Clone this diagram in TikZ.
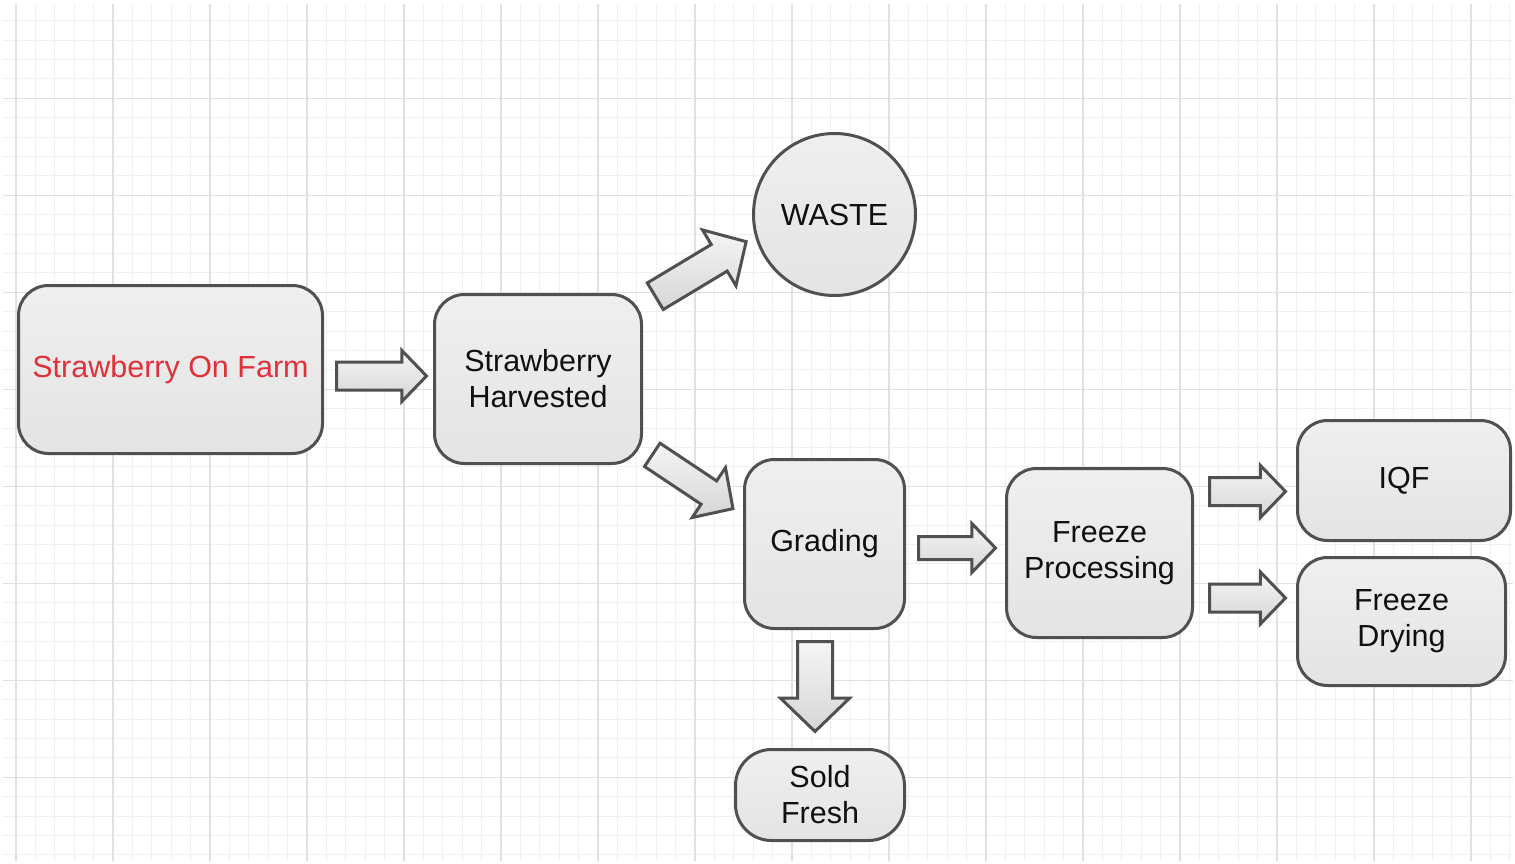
\documentclass[tikz,border=0pt]{standalone}
\usepackage{fontspec}
\setmainfont{Liberation Sans}
\usetikzlibrary{shapes.arrows,shapes.geometric,calc}
\definecolor{edge}{HTML}{505050}
\definecolor{boxtop}{HTML}{EFEFEF}
\definecolor{boxbot}{HTML}{E4E4E4}
\definecolor{arrtop}{HTML}{F5F5F5}
\definecolor{arrbot}{HTML}{D6D6D6}
\definecolor{txt}{HTML}{101010}
\definecolor{farmred}{HTML}{E0303A}
\definecolor{gridminor}{HTML}{F0F0F0}
\definecolor{gridmajor}{HTML}{E0E0E0}
\begin{document}
\begin{tikzpicture}[x=1pt,y=-1pt,
  box/.style={draw=edge, line width=3pt, rounded corners=30pt, top color=boxtop, bottom color=boxbot,
    inner sep=0pt, align=center, font=\fontsize{30.5}{36}\selectfont, text=txt},
  blockarr/.style={single arrow, draw=edge, line width=3pt, top color=arrtop, bottom color=arrbot,
    anchor=tail, single arrow tip angle=92},
  gminor/.style={draw=gridminor, line width=0.9pt},
  gmajor/.style={draw=gridmajor, line width=1.1pt}]
\useasboundingbox[fill=white] (0,0) rectangle (1515,864);
% grid
\foreach \k in {0,...,77} \draw[gminor] ({16+19.4*\k},4) -- ({16+19.4*\k},861);
\foreach \k in {1,...,44} \draw[gminor] (3,{1.3+19.4*\k}) -- (1513,{1.3+19.4*\k});
\foreach \k in {0,5,...,75} \draw[gmajor] ({16+19.4*\k},4) -- ({16+19.4*\k},861);
\foreach \k in {5,10,...,40} \draw[gmajor] (3,{1.3+19.4*\k}) -- (1513,{1.3+19.4*\k});
% nodes
\node[box, minimum width=304pt, minimum height=168pt, text=farmred] (farm) at (170.5,369.5) {Strawberry On Farm};
\node[box, minimum width=207pt, minimum height=169pt] (harv) at (538,379) {Strawberry\\Harvested};
\node[circle, draw=edge, line width=3pt, top color=boxtop, bottom color=boxbot, inner sep=0pt,
  minimum size=162pt, font=\fontsize{30.5}{36}\selectfont, text=txt] (waste) at (834.5,214.5) {WASTE};
\node[box, minimum width=160pt, minimum height=169pt] (grade) at (824.5,544) {Grading};
\node[box, minimum width=186pt, minimum height=169pt] (freeze) at (1099.5,553) {Freeze\\Processing};
\node[box, minimum width=213pt, minimum height=120pt] (iqf) at (1404,480.5) {IQF};
\node[box, minimum width=208pt, minimum height=128pt] (dry) at (1401.5,621.5) {Freeze\\Drying};
\node[box, minimum width=169pt, minimum height=91pt, rounded corners=36pt] (sold) at (820,795) {Sold\\Fresh};
% block arrows
\node[blockarr, rotate=0, minimum height=90pt, inner sep=12.5pt, single arrow head extend=11.5pt] (a1) at (335,376) {};
\node[blockarr, rotate=31, minimum height=106pt, inner sep=14pt, single arrow head extend=17pt] (a2) at (654,297) {};
\node[blockarr, rotate=-33.7, minimum height=97pt, inner sep=12.5pt, single arrow head extend=16pt] (a3) at (651,454) {};
\node[blockarr, rotate=0, minimum height=77pt, inner sep=10pt, single arrow head extend=13pt] (a4) at (917,548) {};
\node[blockarr, rotate=-90, minimum height=90pt, inner sep=16pt, single arrow head extend=17pt] (a5) at (815,640) {};
\node[blockarr, rotate=0, minimum height=76pt, inner sep=12.5pt, single arrow head extend=12pt] (a6) at (1208,491.5) {};
\node[blockarr, rotate=0, minimum height=76pt, inner sep=12.5pt, single arrow head extend=12pt] (a7) at (1208,598) {};
\end{tikzpicture}
\end{document}
